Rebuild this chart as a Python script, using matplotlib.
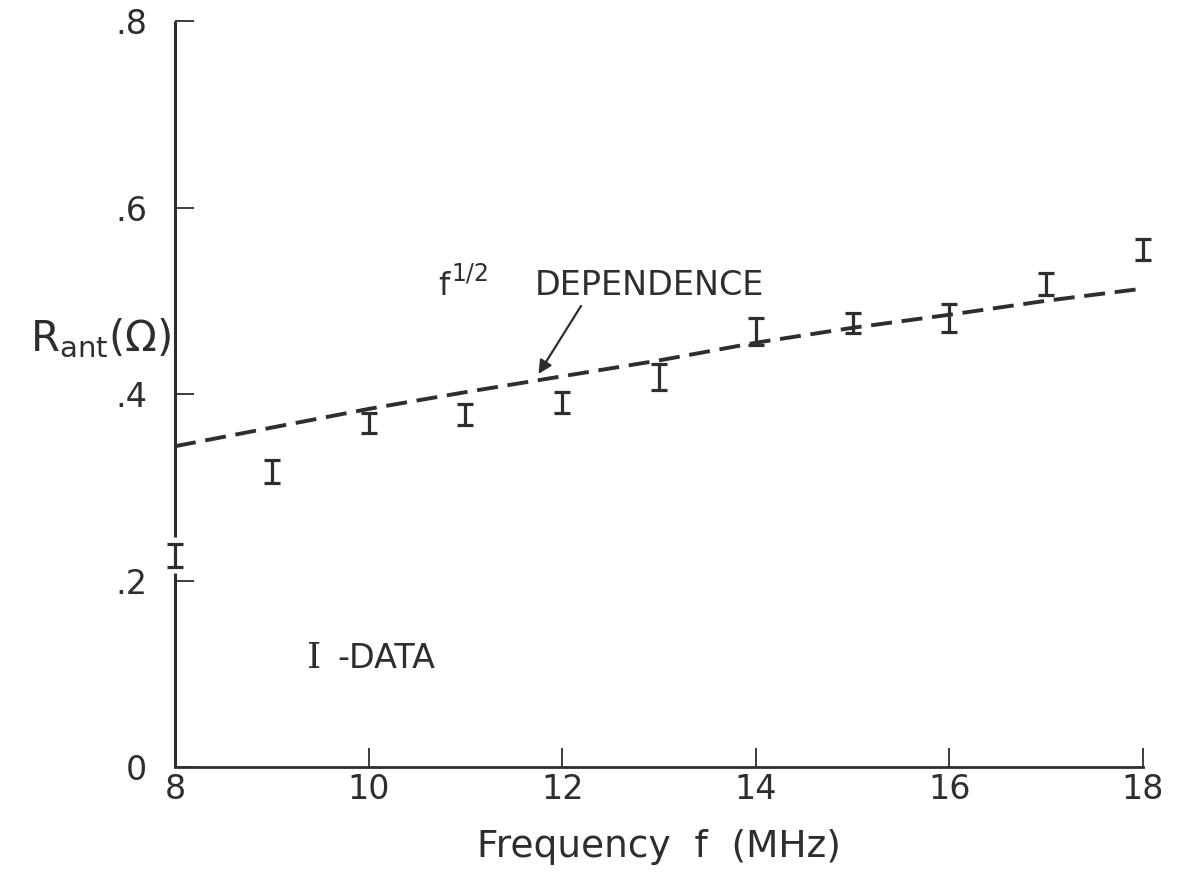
import matplotlib
matplotlib.use('Agg')
import matplotlib.pyplot as plt

freq = [8, 9, 10, 11, 12, 13, 14, 15, 16, 17, 18]
r_ant = [0.227, 0.317, 0.369, 0.378, 0.391, 0.418, 0.467, 0.476, 0.482, 0.518, 0.555]
r_err = [0.012, 0.012, 0.011, 0.011, 0.011, 0.014, 0.014, 0.011, 0.015, 0.012, 0.011]

# f^1/2 dependence curve (dashed)
fit_freq = [8, 9, 10, 11, 12, 13, 14, 15, 16, 17, 18]
fit_r = [0.344, 0.364, 0.384, 0.402, 0.419, 0.436, 0.455, 0.471, 0.485, 0.500, 0.513]

xticks = [8, 10, 12, 14, 16, 18]
xtick_labels = ['8', '10', '12', '14', '16', '18']
yticks = [0, 0.2, 0.4, 0.6, 0.8]
ytick_labels = ['0', '.2', '.4', '.6', '.8']

ink = '#2e2e2e'
plt.rcParams['font.family'] = ['DejaVu Sans']

fig = plt.figure(figsize=(11.78, 8.75), dpi=100)
ax = fig.add_axes([0.1486, 0.1234, 0.8216, 0.8526])

ax.plot(fit_freq, fit_r, color=ink, lw=2.8, dashes=(5.4, 2.5), clip_on=False)
ax.errorbar(freq, r_ant, yerr=r_err, fmt='none', ecolor=ink, elinewidth=2.3,
            capsize=5.5, capthick=2.3, clip_on=False)

ax.set_xlim(8, 18)
ax.set_ylim(0, 0.8)
ax.spines['top'].set_visible(False)
ax.spines['right'].set_visible(False)
ax.spines['left'].set_visible(False)
ax.spines['bottom'].set_linewidth(2)
ax.spines['bottom'].set_color(ink)

# y axis drawn by hand so it can break around the 8 MHz point
ax.plot([8, 8], [0, 0.208], color=ink, lw=2.2, clip_on=False, solid_capstyle='butt')
ax.plot([8, 8], [0.247, 0.8], color=ink, lw=2.2, clip_on=False, solid_capstyle='butt')

ax.set_xticks(xticks)
ax.set_xticklabels(xtick_labels)
ax.set_yticks(yticks)
ax.set_yticklabels(ytick_labels)
ax.tick_params(axis='both', direction='in', length=14, width=1.3, color=ink,
               labelcolor=ink, labelsize=24)
ax.tick_params(axis='x', pad=4)
ax.tick_params(axis='y', pad=20)

ax.set_xlabel('Frequency  f  (MHz)', fontsize=27, color=ink, labelpad=17)
ax.text(7.96, 0.46, r'R$_{\rm ant}$($\Omega$)', fontsize=30, color=ink,
        ha='right', va='center')

ax.text(10.72, 0.506, 'f', fontsize=23, color=ink, ha='left', va='baseline')
ax.text(10.86, 0.522, '1/2', fontsize=17, color=ink, ha='left', va='baseline')
ax.text(11.72, 0.506, 'DEPENDENCE', fontsize=24, color=ink, ha='left', va='baseline')
ax.annotate('', xy=(11.74, 0.419), xytext=(12.21, 0.497),
            arrowprops=dict(arrowstyle='-|>', color=ink, lw=1.6, mutation_scale=20))

ax.text(9.36, 0.106, 'I', family='DejaVu Serif', fontsize=26, color=ink,
        ha='left', va='baseline')
ax.text(9.68, 0.106, '-DATA', fontsize=24, color=ink, ha='left', va='baseline')

fig.savefig('out.png', dpi=100)
